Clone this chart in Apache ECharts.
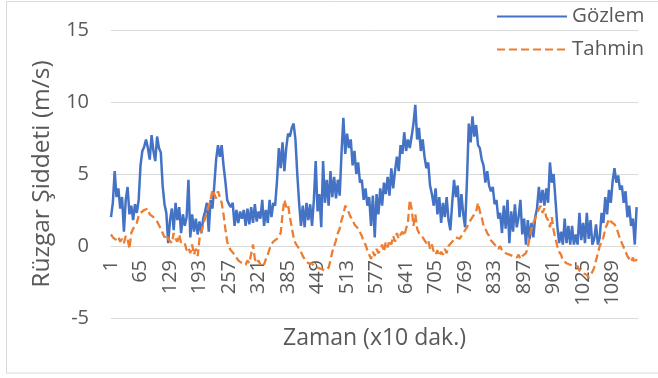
<!DOCTYPE html>
<html>
<head>
<meta charset="utf-8">
<script src="https://cdn.jsdelivr.net/npm/echarts@6/dist/echarts.min.js"></script>
<style>
  html, body { margin: 0; padding: 0; background: #ffffff; }
  #chart { width: 658px; height: 378px; }
</style>
</head>
<body>
<div id="chart"></div>
<script>
// Time axis: 10-minute steps, numbered from 1
const sampleCount = 1144;
const sampleStep = 4;          // one stored reading every 4 time steps
const yTicks = [-5, 0, 5, 10, 15];

// Observed wind speed (m/s)
const gozlem = [
  2.0, 3.0, 5.2, 3.4, 4.0, 2.6, 3.4, 1.0, 3.2, 4.1,
  2.2, 2.8, 1.8, 2.9, 2.3, 3.2, 5.6, 6.6, 6.9, 7.4,
  6.8, 6.0, 7.7, 6.6, 5.9, 7.6, 6.8, 6.5, 4.2, 2.9,
  2.3, 0.2, 1.8, 2.6, 1.1, 3.0, 1.8, 2.7, 0.9, 2.2,
  1.4, 2.0, 4.6, 0.6, 2.2, 1.0, 1.9, 0.8, 1.7, 0.9,
  1.9, 2.4, 3.0, 1.0, 3.2, 2.6, 4.2, 6.0, 7.0, 6.2,
  7.0, 5.6, 4.5, 3.2, 2.9, 2.7, 3.0, 1.4, 2.5, 1.6,
  2.4, 1.9, 2.5, 1.4, 2.6, 1.5, 2.7, 1.6, 2.9, 1.7,
  2.4, 1.9, 3.2, 1.4, 2.5, 1.6, 3.2, 2.0, 3.0, 2.8,
  4.5, 6.8, 5.4, 7.2, 5.2, 6.8, 7.8, 7.6, 8.2, 8.5,
  7.4, 5.0, 3.0, 1.4, 2.8, 1.3, 3.0, 1.8, 2.9, 1.4,
  3.2, 5.9, 2.4, 3.6, 1.3, 5.9, 3.0, 4.6, 2.8, 5.2,
  3.4, 4.8, 3.3, 4.6, 3.5, 6.5, 8.9, 6.4, 7.8, 6.8,
  7.4, 5.6, 6.6, 5.0, 5.8, 4.4, 4.6, 3.2, 4.0, 2.8,
  3.4, 1.4, 3.5, 0.6, 3.6, 2.2, 4.0, 2.8, 4.4, 3.6,
  4.8, 3.5, 5.4, 4.0, 5.2, 6.2, 5.2, 7.0, 6.4, 7.9,
  6.6, 7.4, 6.8, 7.6, 8.5, 9.8, 7.4, 8.2, 6.6, 7.4,
  6.2, 5.4, 5.8, 4.2, 3.6, 2.8, 4.0, 2.2, 3.4, 1.6,
  3.0, 2.0, 3.4, 1.8, 1.1, 3.0, 4.6, 3.4, 4.2, 2.0,
  3.6, 2.2, 1.3, 4.5, 8.5, 7.2, 9.0, 7.6, 8.4, 7.0,
  6.8, 6.0, 5.6, 4.4, 5.2, 4.2, 3.8, 4.1, 2.9, 3.2,
  1.9, 2.3, 0.9, 2.8, 1.2, 3.2, 0.2, 2.4, 1.0, 2.9,
  1.3, 2.0, 3.2, 0.8, 1.9, 0.1, 1.8, 0.5, 1.6, 0.6,
  2.0, 2.6, 4.1, 3.0, 3.9, 2.8, 4.0, 3.0, 5.8, 4.4,
  5.0, 3.2, 1.4, 0.2, 1.0, 0.1, 1.9, 0.2, 1.4, 0.1,
  1.4, 0.1, 0.8, 0.1, 2.3, 0.4, 1.6, 0.2, 2.3, 0.5,
  1.8, 0.1, 0.5, 1.5, 0.1, 0.6, 2.3, 1.6, 3.4, 2.2,
  3.9, 3.0, 4.5, 5.4, 4.4, 4.9, 3.9, 4.2, 3.0, 3.8,
  2.0, 2.8, 1.4, 1.9, 0.1, 2.7
];

// Predicted wind speed (m/s)
const tahmin = [
  0.8, 0.6, 0.7, 0.4, 0.6, 0.3, 0.5, 0.2, 0.7, 0.5,
  -0.2, 0.9, 1.2, 1.4, 1.6, 2.1, 2.3, 2.2, 2.5, 2.4,
  2.6, 2.2, 2.3, 2.0, 1.9, 1.7, 1.8, 1.2, 0.9, 0.6,
  0.8, 0.5, 0.4, 0.2, 0.9, 0.5, 0.3, 0.8, 0.2, 0.1,
  0.2, -0.3, -0.1, -0.5, 0.1, -0.6, -0.2, -0.7, 0.5, 1.0,
  1.5, 1.9, 2.4, 2.8, 3.2, 3.9, 4.0, 3.3, 3.8, 3.4,
  3.0, 2.2, 1.2, 0.3, -0.1, -0.3, -0.4, -0.6, -0.8, -1.0,
  -0.9, -1.2, -1.1, -1.3, -1.0, -1.2, -1.3, 0.1, -0.9, -1.2,
  -1.0, -1.3, -1.1, -1.3, -0.9, -0.6, -0.2, 0.1, 0.3, 0.4,
  0.5, 0.4, 0.9, 2.2, 3.2, 2.7, 2.9, 2.0, 1.3, 0.6,
  0.2, 0.0, -0.2, -0.4, -0.7, -0.9, -1.0, -1.2, -1.3, -1.2,
  -1.4, -1.3, -1.5, -1.4, -1.6, -1.5, -1.7, -1.8, -1.5, -1.0,
  -0.4, 0.0, 0.4, 0.9, 1.2, 1.8, 2.2, 2.8, 2.6, 2.3,
  2.0, 1.8, 1.5, 1.4, 1.2, 1.1, 0.7, 0.3, 0.1, -0.3,
  -0.6, -0.9, -0.4, -0.7, -0.2, -0.5, -0.3, 0.1, -0.4, 0.3,
  -0.1, 0.4, 0.1, 0.7, 0.3, 0.9, 0.5, 0.8, 1.0, 0.7,
  1.2, 1.6, 3.2, 2.6, 1.4, 2.2, 1.2, 0.9, 1.0, 0.6,
  0.7, 0.2, 0.4, -0.2, 0.1, -0.4, -0.6, -0.3, -0.7, -0.4,
  -0.6, -0.2, -0.5, 0.0, -0.1, 0.3, 0.2, 0.6, 0.5, 0.5,
  0.4, 0.9, 0.8, 1.3, 1.6, 1.5, 2.0, 1.9, 2.4, 3.0,
  2.4, 2.0, 1.4, 1.2, 0.9, 0.7, 0.4, 0.3, 0.1, 0.2,
  -0.2, 0.0, -0.3, -0.4, -0.5, -0.4, -0.6, -0.5, -0.7, -0.6,
  -0.8, -0.6, -0.9, -0.7, -0.8, -0.5, -0.1, 0.6, 1.2, 1.6,
  1.9, 2.3, 2.2, 2.8, 2.3, 2.6, 2.0, 1.8, 1.3, 2.0,
  1.1, 0.5, 0.0, -0.4, -0.6, -1.0, -0.9, -1.2, -1.1, -1.3,
  -1.2, -1.4, -1.5, -1.4, -1.7, -1.6, -1.9, -1.8, -2.0, -2.2,
  -2.0, -1.8, -1.5, -1.0, -0.5, 0.0, 0.3, 0.6, 1.2, 1.5,
  1.9, 1.7, 1.8, 1.5, 1.3, 0.9, 0.5, 0.2, -0.1, -0.4,
  -0.7, -0.9, -1.1, -0.8, -1.2, -0.9
];

const timeLabels = [];
for (let t = 1; t <= sampleCount; t++) timeLabels.push(String(t));

// pair each reading with its position on the time axis
const toPoints = (values) => values.map((v, k) => [k * sampleStep, v]);

const textColor = '#595959';
const gridColor = '#d9d9d9';
const fontFamily = "'Open Sans', 'Noto Sans', sans-serif";

// plot box in pixels; the time axis sits on the zero line
const plotTop = 30, plotBottom = 318;
const zeroOffset = -(plotBottom - plotTop) * (0 - yTicks[0]) / (yTicks[yTicks.length - 1] - yTicks[0]);

const chart = echarts.init(document.getElementById('chart'), null, { renderer: 'canvas' });

chart.setOption({
  backgroundColor: '#ffffff',
  animation: false,
  textStyle: { fontFamily: fontFamily, color: textColor },
  graphic: [{
    type: 'rect',
    shape: { x: 6.5, y: 1.5, width: 700, height: 371.5 },
    style: { fill: 'none', stroke: gridColor, lineWidth: 1 },
    silent: true
  }],
  legend: {
    orient: 'vertical',
    left: 491,
    top: 1,
    itemWidth: 70,
    itemHeight: 12,
    itemGap: 12,
    itemStyle: { opacity: 0, borderWidth: 0 },
    textStyle: { fontSize: 20.5, color: textColor, fontFamily: fontFamily },
    data: ['Gözlem', 'Tahmin']
  },
  grid: { left: 111, right: 20, top: plotTop, bottom: 378 - plotBottom, containLabel: false, outerBoundsMode: 'none' },
  xAxis: {
    type: 'category',
    data: timeLabels,
    boundaryGap: false,
    position: 'bottom',
    offset: zeroOffset,
    name: 'Zaman (x10 dak.)',
    nameLocation: 'middle',
    nameGap: 81,
    nameTextStyle: { fontSize: 23, color: textColor, fontFamily: fontFamily },
    axisLine: { onZero: false, lineStyle: { color: gridColor, width: 1 } },
    axisTick: { show: false },
    axisLabel: {
      interval: 63,
      rotate: 90,
      margin: 14,
      fontSize: 20,
      color: textColor,
      fontFamily: fontFamily
    },
    splitLine: { show: false }
  },
  yAxis: {
    type: 'value',
    min: yTicks[0],
    max: yTicks[yTicks.length - 1],
    interval: 5,
    name: 'Rüzgar Şiddeti (m/s)',
    nameLocation: 'middle',
    nameGap: 56,
    nameTextStyle: { fontSize: 24.5, color: textColor, fontFamily: fontFamily },
    axisLine: { show: false },
    axisTick: { show: false },
    axisLabel: { fontSize: 20, color: textColor, margin: 22, fontFamily: fontFamily },
    splitLine: { lineStyle: { color: gridColor, width: 1 } }
  },
  series: [
    {
      name: 'Gözlem',
      type: 'line',
      data: toPoints(gozlem),
      symbol: 'none',
      lineStyle: { color: '#4472C4', width: 2.5 },
      itemStyle: { color: '#4472C4' },
      z: 2
    },
    {
      name: 'Tahmin',
      type: 'line',
      data: toPoints(tahmin),
      symbol: 'none',
      lineStyle: { color: '#ED7D31', width: 2.3, type: [8, 4] },
      itemStyle: { color: '#ED7D31' },
      z: 3
    }
  ]
});
</script>
</body>
</html>
